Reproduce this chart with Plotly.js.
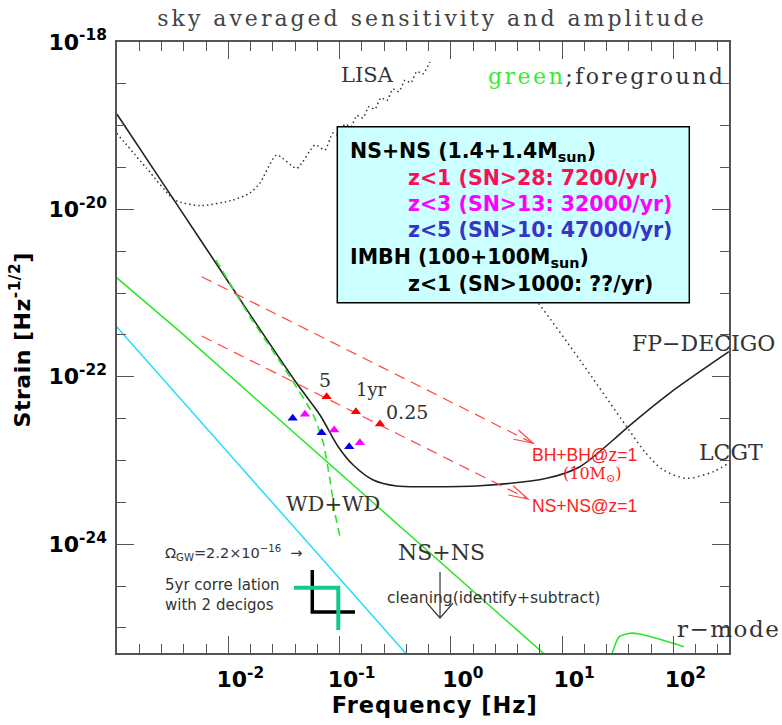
<!DOCTYPE html>
<html>
<head>
<meta charset="utf-8">
<script src="https://cdn.plot.ly/plotly-3.0.1.min.js"></script>
<style>
html,body{margin:0;padding:0;background:#fff;}
#chart{width:782px;height:725px;}
</style>
</head>
<body>
<div id="chart"></div>
<script>
// ---------- data (frequency in Hz, strain in Hz^-1/2) ----------
const lisaF = [9.93e-4, 1.849e-3, 3.319e-3, 5.572e-3, 1.102e-2, 1.567e-2, 1.928e-2, 2.723e-2, 4.121e-2, 6.012e-2, 7.396e-2,
  8.730e-2, 9.886e-2, 1.117e-1, 1.265e-1, 1.432e-1, 1.622e-1, 1.837e-1, 2.080e-1, 2.355e-1, 2.667e-1, 3.020e-1, 3.420e-1, 3.873e-1, 4.375e-1, 4.955e-1, 5.610e-1, 6.486e-1];
const lisaH = [8.11e-20, 3.097e-20, 1.294e-20, 1.107e-20, 1.294e-20, 1.570e-20, 2.065e-20, 4.467e-20, 3.097e-20, 5.875e-20, 5.129e-20,
  8.185e-20, 7.621e-20, 1.042e-19, 9.705e-20, 1.327e-19, 1.236e-19, 1.690e-19, 1.574e-19, 2.153e-19, 2.004e-19, 2.742e-19, 2.553e-19, 3.499e-19, 3.258e-19, 4.457e-19, 4.150e-19, 5.768e-19];

const lcgtF = [4.178, 6.31, 14.45, 38.02, 55.46, 81.1, 131.5, 228, 315.5];
const lcgtH = [1.436e-21, 7.211e-22, 1.589e-22, 2.535e-23, 1.265e-23, 7.709e-24, 6.124e-24, 7.345e-24, 9.333e-24];

const decigoF = [1.0e-3, 2.432e-3, 5.768e-3, 1.567e-2, 4.121e-2, 6.668e-2, 9.727e-2, 1.327e-1, 2.009e-1, 3.258e-1, 6.486e-1, 1.824, 7.261, 14.45, 28.77, 38.02, 92.9, 315.5];
const decigoH = [1.368e-19, 2.312e-20, 4.111e-21, 5.572e-22, 8.356e-23, 3.499e-23, 1.462e-23, 8.831e-24, 5.848e-24, 4.955e-24, 4.864e-24, 5.000e-24, 6.124e-24, 8.433e-24, 1.758e-23, 2.443e-23, 6.397e-23, 1.995e-22];

const foregroundF = [9.93e-4, 3.681e-3, 7.762];
const foregroundH = [1.528e-21, 3.459e-22, 4.256e-26];

const omegaF = [9.93e-4, 4.295e-1];
const omegaH = [3.972e-22, 4.365e-26];

const wdwdF = [7.762e-3, 1.567e-2, 2.723e-2, 3.837e-2, 5.808e-2, 7.145e-2, 8.204e-2, 9.099e-2, 1.009e-1];
const wdwdH = [2.483e-21, 5.224e-22, 1.738e-22, 8.670e-23, 3.499e-23, 1.618e-23, 5.848e-24, 2.339e-24, 1.230e-24];

const bhbhF = [5.768e-3, 5.495];
const bhbhH = [1.570e-21, 1.603e-23];
const nsnsF = [5.768e-3, 4.932];
const nsnsH = [3.069e-22, 3.467e-24];

const z1F = [7.656e-2, 1.403e-1, 2.307e-1];
const z1H = [5.781e-23, 3.828e-23, 2.729e-23];
const z3F = [4.887e-2, 8.954e-2, 1.524e-1];
const z3H = [3.565e-23, 2.312e-23, 1.633e-23];
const z5F = [3.793e-2, 6.902e-2, 1.222e-1];
const z5H = [3.192e-23, 2.148e-23, 1.462e-23];

const rmodeF = [26.92, 32.58, 40.64, 50.0, 99.5, 124.2];
const rmodeH = [4.13e-26, 7.852e-26, 8.630e-26, 8.453e-26, 6.546e-26, 5.957e-26];

// ---------- ticks ----------
const xMajorExp = [-2, -1, 0, 1, 2];
const xTickText = ['10<sup>-2</sup>', '10<sup>-1</sup>', '10<sup>0</sup>', '10<sup>1</sup>', '10<sup>2</sup>'];
const xMinorExp = [-2.8,-2.6,-2.4,-2.2,-1.8,-1.6,-1.4,-1.2,-0.8,-0.6,-0.4,-0.2,0.2,0.4,0.6,0.8,1.2,1.4,1.6,1.8,2.2,2.4];
const yMajorExp = [-18, -20, -22, -24];
const yTickText = ['10<sup>-18</sup>', '10<sup>-20</sup>', '10<sup>-22</sup>', '10<sup>-24</sup>'];
const yMinorExp = [-18.5,-19,-19.5,-20.5,-21,-21.5,-22.5,-23,-23.5,-24.5,-25];
const p10 = e => Math.pow(10, e);

// pixel -> paper helpers for decorations
const X = px => (px - 117) / 612;
const Y = py => (653 - py) / 611;

const traces = [
  {x: lisaF, y: lisaH, mode: 'lines', line: {color: '#333', width: 1.5, dash: '1.5px,3px', shape: 'spline', smoothing: 0.6}},
  {x: lcgtF, y: lcgtH, mode: 'lines', line: {color: '#333', width: 1.5, dash: '1.5px,3.5px', shape: 'spline', smoothing: 0.8}},
  {x: decigoF, y: decigoH, mode: 'lines', line: {color: '#222', width: 1.6, shape: 'spline', smoothing: 0.8}},
  {x: foregroundF, y: foregroundH, mode: 'lines', line: {color: '#2be62b', width: 1.5}},
  {x: omegaF, y: omegaH, mode: 'lines', line: {color: '#22ddff', width: 1.5}},
  {x: wdwdF, y: wdwdH, mode: 'lines', line: {color: '#2be62b', width: 1.6, dash: '8px,5px', shape: 'spline', smoothing: 0.6}},
  {x: bhbhF, y: bhbhH, mode: 'lines', line: {color: '#ff4545', width: 1.2, dash: '11px,7px'}},
  {x: nsnsF, y: nsnsH, mode: 'lines', line: {color: '#ff4545', width: 1.2, dash: '11px,7px'}},
  {x: z1F, y: z1H, mode: 'markers', marker: {symbol: 'triangle-up', size: 9, color: '#ff0000'}},
  {x: z3F, y: z3H, mode: 'markers', marker: {symbol: 'triangle-up', size: 9, color: '#ff00ff'}},
  {x: z5F, y: z5H, mode: 'markers', marker: {symbol: 'triangle-up', size: 9, color: '#0000ee'}},
  {x: rmodeF, y: rmodeH, mode: 'lines', line: {color: '#2be62b', width: 1.6, shape: 'spline', smoothing: 0.6}}
];

const serif = 'DejaVu Serif';
const sans = 'DejaVu Sans';
function ann(text, px, py, opts) {
  return Object.assign({
    text: text, xref: 'paper', yref: 'paper', x: X(px), y: Y(py),
    showarrow: false, xanchor: 'left', yanchor: 'middle',
    font: {family: serif, size: 21, color: '#333'}
  }, opts || {});
}
const boxFont = (c) => ({family: sans, size: 20.5, weight: 'bold', color: c});
const annotations = [
  ann('LISA', 367.7, 75, {xanchor: 'center'}),
  ann('<span style="color:#33ee33;letter-spacing:2.5px">green</span><span style="letter-spacing:2.5px">;foreground</span>', 486, 76, {font: {family: serif, size: 22, color: '#333'}}),
  ann('FP\u2212DECIGO', 630, 343, {font: {family: serif, size: 22, color: '#333'}}),
  ann('LCGT', 697, 452.5, {font: {family: serif, size: 22, color: '#333'}}),
  ann('WD+WD', 332.5, 504, {xanchor: 'center'}),
  ann('NS+NS', 441, 552.5, {xanchor: 'center', font: {family: serif, size: 22, color: '#333'}}),
  ann('cleaning(identify+subtract)', 385, 598, {font: {family: sans, size: 15.5, color: '#333'}}),
  ann('<span style="letter-spacing:1.5px">r\u2212mode</span>', 675, 629, {font: {family: serif, size: 23, color: '#333'}}),
  ann('5', 325, 380, {xanchor: 'center', font: {family: serif, size: 19, color: '#333'}}),
  ann('1yr', 371, 389, {xanchor: 'center', font: {family: serif, size: 18, color: '#333'}}),
  ann('0.25', 407, 412, {xanchor: 'center', font: {family: serif, size: 19, color: '#333'}}),
  ann('BH+BH@z=1', 530, 455, {font: {family: 'Liberation Sans', size: 17.5, color: '#ff2020'}}),
  ann('(10M<sub>\u2299</sub>)', 592.5, 474, {xanchor: 'center', font: {family: serif, size: 16, color: '#ff2020'}}),
  ann('NS+NS@z=1', 530, 506, {font: {family: 'Liberation Sans', size: 17.5, color: '#ff2020'}}),
  ann('\u03a9<sub>GW</sub>=2.2\u00d710<sup>\u221216</sup>  \u2192', 163, 553, {font: {family: sans, size: 14.5, color: '#333'}}),
  ann('5yr corre lation', 163, 585, {font: {family: sans, size: 15, color: '#333'}}),
  ann('with 2 decigos', 163, 605, {font: {family: sans, size: 15, color: '#333'}}),
  ann('NS+NS (1.4+1.4M<sub>sun</sub>)', 348, 152, {font: boxFont('#000')}),
  ann('z&lt;1 (SN&gt;28: 7200/yr)', 406, 178, {font: boxFont('#ff0d55')}),
  ann('z&lt;3 (SN&gt;13: 32000/yr)', 406, 204, {font: boxFont('#ff00ff')}),
  ann('z&lt;5 (SN&gt;10: 47000/yr)', 406, 230, {font: boxFont('#3535c8')}),
  ann('IMBH (100+100M<sub>sun</sub>)', 348, 258, {font: boxFont('#000')}),
  ann('z&lt;1 (SN&gt;1000: ??/yr)', 406, 284, {font: boxFont('#000')})
];

function path(pts) {
  return pts.map((p, i) => (i ? 'L' : 'M') + X(p[0]).toFixed(4) + ',' + Y(p[1]).toFixed(4)).join(' ');
}
const shapes = [
  {type: 'rect', xref: 'paper', yref: 'paper', x0: X(337.3), x1: X(689.3), y0: Y(302.7), y1: Y(126.7),
   fillcolor: '#ccffff', line: {color: '#000', width: 1.5}, layer: 'above'},
  {type: 'path', xref: 'paper', yref: 'paper', path: path([[312.3, 570], [312.3, 612], [355, 612]]),
   line: {color: '#000', width: 3.5}, layer: 'above'},
  {type: 'path', xref: 'paper', yref: 'paper', path: path([[294, 587.7], [338.3, 587.7], [338.3, 630]]),
   line: {color: '#11cc88', width: 4}, layer: 'above'},
  {type: 'path', xref: 'paper', yref: 'paper', path: path([[440, 572], [440, 618]]), line: {color: '#333', width: 1.2}, layer: 'above'},
  {type: 'path', xref: 'paper', yref: 'paper', path: path([[427, 603], [440, 618], [453, 603]]), line: {color: '#333', width: 1.2}, layer: 'above'},
  {type: 'path', xref: 'paper', yref: 'paper', path: path([[513.7, 439.3], [533.3, 443.3], [518.4, 430]]), line: {color: '#ff4545', width: 1.2}, layer: 'above'},
  {type: 'path', xref: 'paper', yref: 'paper', path: path([[508.4, 495], [528, 499], [513.1, 485.7]]), line: {color: '#ff4545', width: 1.2}, layer: 'above'}
];

const axisCommon = {
  type: 'log', showgrid: false, zeroline: false, showline: true, linecolor: '#555', linewidth: 1.5,
  mirror: 'ticks', ticks: 'inside', ticklen: 17, tickwidth: 1.2, tickcolor: '#555',
  tickmode: 'array', tickfont: {family: sans, size: 22, weight: 'bold', color: '#000'}
};

const layout = {
  width: 782, height: 725,
  margin: {l: 117, r: 53, t: 42, b: 72},
  paper_bgcolor: '#fff', plot_bgcolor: '#fff',
  showlegend: false,
  title: {text: '<span style="letter-spacing:3px">sky averaged sensitivity and amplitude</span>',
          font: {family: serif, size: 22, color: '#444'}, xref: 'container', yref: 'container',
          x: 432 / 782, xanchor: 'center', y: 1 - 18 / 725, yanchor: 'middle'},
  xaxis: Object.assign({}, axisCommon, {
    range: [-3, 2.5],
    tickvals: xMajorExp.map(p10), ticktext: xTickText, ticklabelshift: 12, ticklabelstandoff: 6,
    minor: {tickmode: 'array', tickvals: xMinorExp.map(p10), ticks: 'inside', ticklen: 9, tickwidth: 1.2, tickcolor: '#555'},
    title: {text: '\u200b\u00a0\u00a0\u00a0<span style="letter-spacing:1px">Frequency [Hz]</span>', font: {family: sans, size: 22.5, weight: 'bold', color: '#000'}, standoff: 6}
  }),
  yaxis: Object.assign({}, axisCommon, {
    range: [-25.3, -18],
    tickvals: yMajorExp.map(p10), ticktext: yTickText, ticklabelstandoff: 4,
    minor: {tickmode: 'array', tickvals: yMinorExp.map(p10), ticks: 'inside', ticklen: 9, tickwidth: 1.2, tickcolor: '#555'},
    title: {text: '\u200b\u00a0\u00a0<span style="letter-spacing:0.5px">Strain [Hz<sup>-1/2</sup>]</span>', font: {family: sans, size: 22, weight: 'bold', color: '#000'}, standoff: 12}
  }),
  annotations: annotations,
  shapes: shapes
};

Plotly.newPlot('chart', traces, layout, {displayModeBar: false, responsive: false});
</script>
</body>
</html>
